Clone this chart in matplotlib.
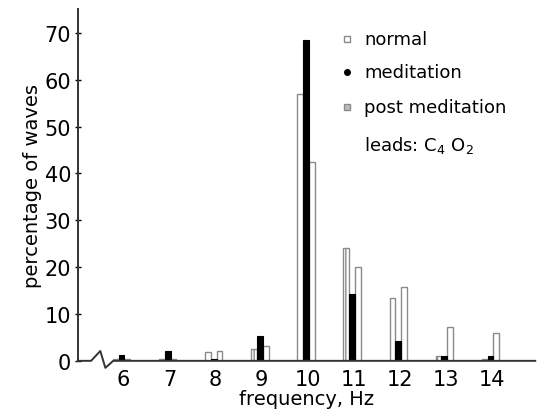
import numpy as np
import matplotlib.pyplot as plt

freqs = [6, 7, 8, 9, 10, 11, 12, 13, 14]
normal = [0.3, 0.3, 1.8, 2.5, 57.0, 24.0, 13.4, 1.0, 0.3]
meditation = [1.2, 2.0, 0.3, 5.3, 68.5, 14.3, 4.2, 1.0, 1.0]
post_meditation = [0.3, 0.3, 2.2, 3.2, 42.5, 20.0, 15.8, 7.2, 6.0]

plt.rcParams['font.family'] = ['DejaVu Sans']

fig = plt.figure(figsize=(5.39, 4.14), dpi=100)
ax = fig.add_axes([0.145, 0.126, 0.848, 0.85])

x = np.array(freqs, dtype=float) - 0.04
w = 0.125
edge = '#8a8a8a'
ax.bar(x - w, normal, width=w, facecolor='white', edgecolor=edge,
       linewidth=1.0, hatch='||', zorder=2)
ax.bar(x, meditation, width=w, facecolor='black', edgecolor='black',
       linewidth=0.8, zorder=3)
ax.bar(x + w, post_meditation, width=w, facecolor='white', edgecolor=edge,
       linewidth=1.0, zorder=2)

ax.set_xlim(5.02, 14.93)
ax.set_ylim(0, 75.1)

for s in ['top', 'right', 'bottom']:
    ax.spines[s].set_visible(False)
ax.spines['left'].set_linewidth(1.4)
ax.spines['left'].set_color('#333333')

# x axis line with a break zigzag
x0, x1 = ax.get_xlim()
bx = [x0, 5.30, 5.50, 5.61, 5.78, x1]
by = [0, 0, 2.1, -1.5, 0, 0]
ax.plot(bx, by, color='#333333', linewidth=1.4, clip_on=False, zorder=4)

ax.set_xticks(freqs)
ax.set_xticklabels([str(f) for f in freqs])
ax.tick_params(axis='x', length=0, pad=6, labelsize=15)
ax.set_yticks(range(0, 71, 10))
ax.tick_params(axis='y', direction='inout', length=4, width=1, pad=3,
               labelsize=15)

ax.set_xlabel('frequency, Hz', fontsize=14, labelpad=0)
ax.set_ylabel('percentage of waves', fontsize=14, labelpad=2)

# legend drawn as text with small markers
items = [('normal', 's', 'white', edge), ('meditation', 'o', 'black', 'black'),
         ('post meditation', 's', '#bbbbbb', edge)]
ys = [0.915, 0.821, 0.722]
for (label, m, fc, ec), yy in zip(items, ys):
    ax.plot([0.589], [yy], marker=m, markersize=4, markerfacecolor=fc,
            markeredgecolor=ec, transform=ax.transAxes, clip_on=False)
    ax.text(0.626, yy, label, transform=ax.transAxes, fontsize=13,
            va='center', ha='left')
ax.text(0.626, 0.616, r'leads: C$_4$ O$_2$', transform=ax.transAxes,
        fontsize=13, va='center', ha='left')

fig.savefig('out.png', dpi=100)
